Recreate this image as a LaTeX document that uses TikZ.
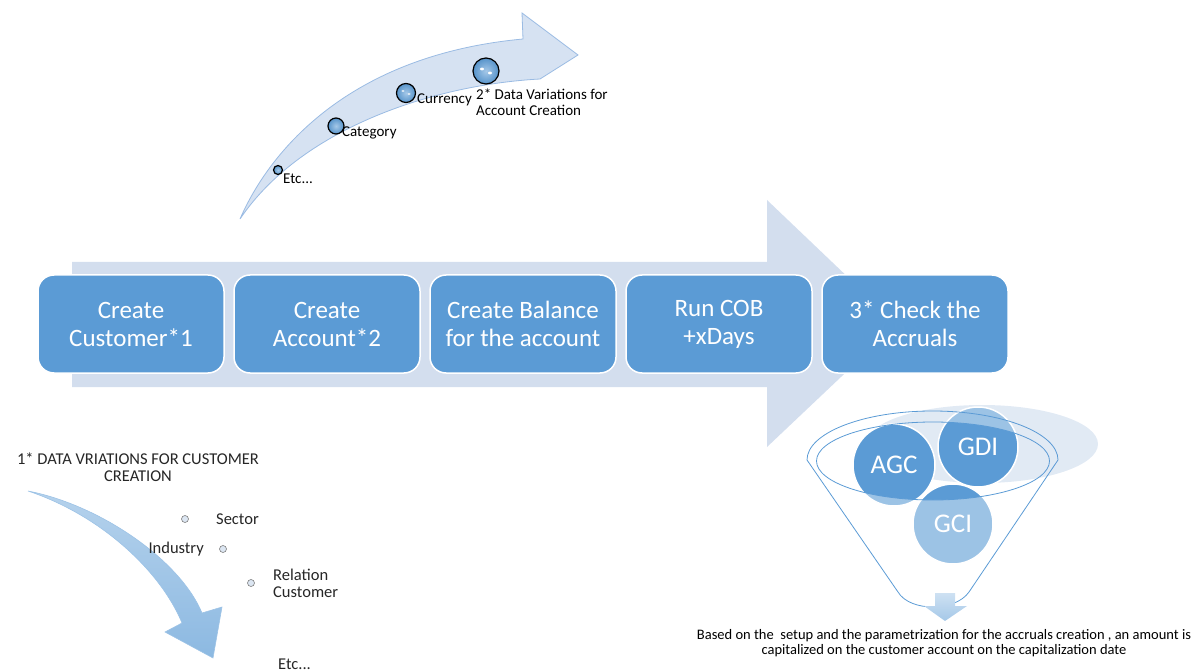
\documentclass[tikz,border=0pt]{standalone}
\usepackage{fontspec}
\setmainfont{Carlito}
\usetikzlibrary{shapes.geometric}
\definecolor{boxblue}{HTML}{5B9BD5}
\definecolor{bgarrow}{HTML}{D3DEEE}
\definecolor{toparrow}{HTML}{D6E2F2}
\definecolor{toparrowline}{HTML}{9ABBE3}
\definecolor{ghost}{HTML}{DCE6F2}
\definecolor{txt}{HTML}{262626}
\tikzset{
  stepbox/.style={rectangle, rounded corners=16pt, minimum width=186pt, minimum height=98pt,
    fill=boxblue, draw=white, line width=1.5pt, text=white, align=center, inner sep=0pt,
    font=\fontsize{25}{28}\selectfont},
  ballnode/.style={circle, fill=boxblue, draw=white, line width=1.5pt, text=white,
    inner sep=0pt, font=\fontsize{27}{30}\selectfont},
  lbl/.style={inner sep=0pt, text=txt, font=\fontsize{16.5}{17}\selectfont},
  toplbl/.style={inner sep=0pt, text=black, font=\fontsize{15}{16}\selectfont},
  bullet/.style={circle, draw=gray, fill=ghost, line width=0.6pt, minimum size=7pt, inner sep=0pt},
  gem/.style={circle, draw=black, line width=1.2pt, inner color=boxblue!55, outer color=boxblue!95!black, inner sep=0pt},
  funnelline/.style={draw=boxblue, line width=0.8pt}
}
\begin{document}
\begin{tikzpicture}[x=1pt,y=-1pt]
\useasboundingbox (0,0) rectangle (1192,671);

% ---------- big background arrow ----------
\fill[bgarrow] (72,262) -- (767,262) -- (767,200) -- (897,324) -- (767,447) -- (767,387) -- (72,387) -- cycle;

% ---------- process steps ----------
\node[stepbox] (b1) at (131,324) {Create\\Customer*1};
\node[stepbox] (b2) at (327,324) {Create\\Account*2};
\node[stepbox] (b3) at (523,324) {Create Balance\\for the account};
\node[stepbox] (b4) at (719,324) {Run COB\\+xDays};
\node[stepbox] (b5) at (915,324) {3* Check the\\Accruals};

% ---------- top curved arrow ----------
\filldraw[fill=toparrow, draw=toparrowline, line width=0.8pt]
  (240,219) .. controls (270,150) and (350,55) .. (523,39)
  -- (522,13) -- (578,55) -- (540,79)
  .. controls (430,85) and (300,130) .. (240,219) -- cycle;

\node[gem, minimum size=9pt] (g1) at (278,170) {};
\node[gem, minimum size=16pt] (g2) at (336,126) {};
\node[gem, minimum size=19pt] (g3) at (406,93) {};
\node[gem, minimum size=26pt] (g4) at (486,71) {};
\fill[white] (403,91) ellipse (1.6 and 0.8) (409,94) ellipse (1.6 and 0.8);
\fill[white] (482,69) ellipse (2 and 1.4) (490,73) ellipse (2 and 1.4);
\node[toplbl, anchor=west] (l1) at (283,179) {Etc...};
\node[toplbl, anchor=west] (l2) at (342,133) {Category};
\node[toplbl, anchor=west] (l3) at (417,100) {Currency};
\node[toplbl, anchor=west, align=left] (l4) at (476,102) {2* Data Variations for\\Account Creation};

% ---------- bottom-left curved arrow ----------
\shade[top color=boxblue!45, bottom color=boxblue!70]
  (28,491) .. controls (100,505) and (180,560) .. (202,613)
  -- (222,607) -- (213,658) -- (165,632) -- (182,623)
  .. controls (160,570) and (100,515) .. (28,491) -- cycle;
\draw[boxblue!60, line width=0.6pt]
  (28,491) .. controls (100,505) and (180,560) .. (202,613)
  -- (222,607) -- (213,658) -- (165,632) -- (182,623)
  .. controls (160,570) and (100,515) .. (28,491) -- cycle;

\node[lbl, align=center] (title) at (138,467) {1* DATA VRIATIONS FOR CUSTOMER\\CREATION};
\node[bullet] (p1) at (185,519) {};
\node[bullet] (p2) at (223,549) {};
\node[bullet] (p3) at (251,583) {};
\node[lbl, anchor=west] (s1) at (216,519) {Sector};
\node[lbl, anchor=east] (s2) at (204,549) {Industry};
\node[lbl, anchor=west, align=left] (s3) at (273,583) {Relation\\Customer};
\node[lbl, anchor=west] (s4) at (278,664) {Etc...};

% ---------- funnel ----------
\fill[ghost, opacity=0.85] (982,444) ellipse (116 and 39);
\node[ballnode, minimum size=82pt] (agc) at (894,465) {AGC};
\node[ballnode, minimum size=80pt] (gdi) at (978,447) {GDI};
\node[ballnode, minimum size=80pt] (gci) at (953,524) {GCI};
\begin{scope}
  \clip (894,465) circle (41) (978,447) circle (40) (953,524) circle (40);
  \fill[white, opacity=0.4, even odd rule] (800,380) rectangle (1080,600) (933,461) ellipse (116.5 and 39);
\end{scope}
\draw[funnelline] (807,460) arc[start angle=180, end angle=0, x radius=125.5, y radius=-49]
  -- (969,592) .. controls (955,612) and (910,612) .. (898,592) -- cycle;
\draw[funnelline] (933,461) ellipse (116.5 and 39);
\shade[top color=boxblue!30, bottom color=boxblue!55]
  (935,593) -- (955,593) -- (955,606) -- (967,606) -- (945,621) -- (924,606) -- (935,606) -- cycle;

\node[inner sep=0pt, text=black, align=center, font=\fontsize{14.5}{15.5}\selectfont] (note) at (944,643)
  {Based on the\ \ setup and the parametrization for the accruals creation , an amount is\\capitalized on the customer account on the capitalization date};
\end{tikzpicture}
\end{document}
